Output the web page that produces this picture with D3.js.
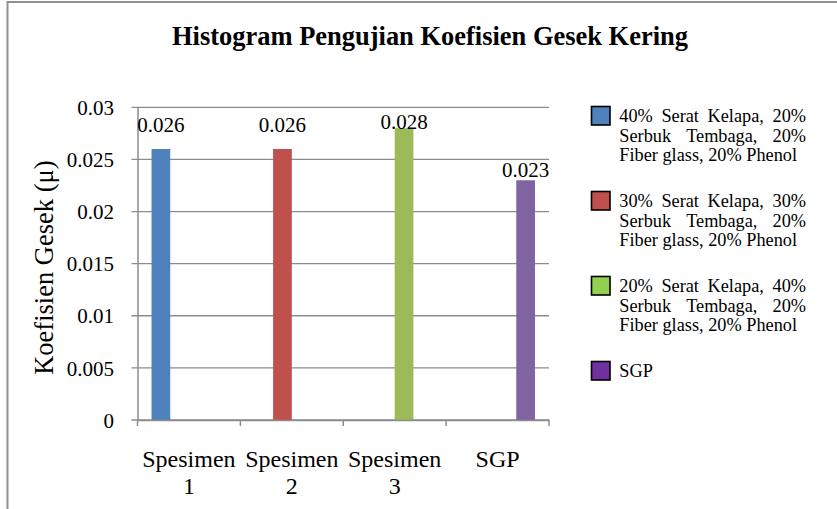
<!DOCTYPE html>
<html>
<head>
<meta charset="utf-8">
<script src="https://cdn.jsdelivr.net/npm/d3@7"></script>
<style>
  html, body { margin: 0; padding: 0; background: #fff; }
  svg { display: block; }
  text { font-family: "Liberation Serif", "Times New Roman", serif; fill: #000; }
</style>
</head>
<body>
<svg id="chart" width="837" height="509"></svg>
<script>
// ---------- data ----------
const title = "Histogram Pengujian Koefisien Gesek Kering";
const yAxisTitle = "Koefisien Gesek (\u03bc)";
const categories = ["Spesimen 1", "Spesimen 2", "Spesimen 3", "SGP"];
const seriesNames = ["Spesimen 1", "Spesimen 2", "Spesimen 3", "SGP"];
const series1 = [0.026, null, null, null];
const series2 = [null, 0.026, null, null];
const series3 = [null, null, 0.028, null];
const series4 = [null, null, null, 0.023];
const yTicks = [0, 0.005, 0.01, 0.015, 0.02, 0.025, 0.03];
const yTickLabels = ["0", "0.005", "0.01", "0.015", "0.02", "0.025", "0.03"];
const legendLines = [
  ["40% Serat Kelapa, 20%", "Serbuk Tembaga, 20%", "Fiber glass, 20% Phenol"],
  ["30% Serat Kelapa, 30%", "Serbuk Tembaga, 20%", "Fiber glass, 20% Phenol"],
  ["20% Serat Kelapa, 40%", "Serbuk Tembaga, 20%", "Fiber glass, 20% Phenol"],
  ["SGP"]
];
const barColors = ["#4F81BD", "#C0504D", "#9BBB59", "#8064A2"];
const legendColors = ["#4F81BD", "#C0504D", "#92D050", "#7030A0"];

// ---------- layout ----------
const allSeries = [series1, series2, series3, series4];
const svg = d3.select("#chart");
const plot = { left: 137.5, right: 549, top: 107.3, bottom: 420 };
const gridColor = "#8c8c8c";
const serif = "Liberation Serif, Times New Roman, serif";

// outer chart border (only left & top visible)
svg.append("rect")
  .attr("x", 7.5).attr("y", 2)
  .attr("width", 900).attr("height", 600)
  .attr("fill", "none").attr("stroke", "#8f8f8f").attr("stroke-width", 2);

// title
svg.append("text")
  .attr("x", 430).attr("y", 44.5)
  .attr("text-anchor", "middle")
  .attr("font-size", 26.5).attr("font-weight", "bold")
  .attr("textLength", 516).attr("lengthAdjust", "spacingAndGlyphs")
  .text(title);

const x = d3.scaleBand().domain(categories).range([plot.left, plot.right]).paddingInner(0).paddingOuter(0);
const xs = d3.scaleBand().domain(seriesNames).range([0, x.bandwidth()]).paddingInner(0).paddingOuter(0.75);
const y = d3.scaleLinear().domain([0, 0.03]).range([plot.bottom, plot.top]);

// gridlines
svg.append("g").selectAll("line").data(yTicks).join("line")
  .attr("x1", plot.left - 6).attr("x2", plot.right)
  .attr("y1", d => y(d)).attr("y2", d => y(d))
  .attr("stroke", gridColor).attr("stroke-width", 1.3);

// y axis
const yAxis = d3.axisLeft(y).tickValues(yTicks).tickSize(0).tickPadding(23.5)
  .tickFormat((d, i) => yTickLabels[i]);
const gy = svg.append("g").attr("transform", `translate(${plot.left},0)`).call(yAxis);
gy.select(".domain").attr("stroke", gridColor).attr("stroke-width", 1.5);
gy.selectAll("text").attr("font-size", 21).attr("font-family", serif).attr("fill", "#000").attr("dy", "0.34em");

// bars
allSeries.forEach((vals, si) => {
  svg.append("g").selectAll("rect")
    .data(vals.map((v, ci) => ({ v, c: categories[ci] })).filter(d => d.v != null))
    .join("rect")
    .attr("x", d => x(d.c) + xs(seriesNames[si]))
    .attr("width", xs.bandwidth())
    .attr("y", d => y(d.v))
    .attr("height", d => y(0) - y(d.v))
    .attr("fill", barColors[si]);
});

// x axis
const xAxis = d3.axisBottom(x).tickSize(0).tickFormat("");
const gx = svg.append("g").attr("transform", `translate(0,${plot.bottom})`).call(xAxis);
gx.select(".domain").attr("stroke", gridColor).attr("stroke-width", 1.5);
const boundaries = categories.map(c => x(c)).concat([x.range()[1]]);
gx.selectAll(".bnd").data(boundaries).join("line").attr("class", "bnd")
  .attr("x1", d => d).attr("x2", d => d).attr("y1", 0).attr("y2", 6)
  .attr("stroke", gridColor).attr("stroke-width", 1.5);
// category labels (wrapped)
categories.forEach(c => {
  const words = c.split(" ");
  const lines = words.length > 1 ? [words.slice(0, -1).join(" "), words[words.length - 1]] : [c];
  const t = svg.append("text").attr("text-anchor", "middle").attr("font-size", 24);
  lines.forEach((ln, i) => {
    t.append("tspan").attr("x", x(c) + x.bandwidth() / 2)
      .attr("y", 466.7 + i * 27.6)
      .text(ln);
  });
});

// data labels
const labelDy = [-17.3, -17.3, 0.5, -3.2];
allSeries.forEach((vals, si) => {
  vals.forEach((v, ci) => {
    if (v == null) return;
    svg.append("text")
      .attr("x", x(categories[ci]) + xs(seriesNames[si]) + xs.bandwidth() / 2)
      .attr("y", y(v) + labelDy[si])
      .attr("text-anchor", "middle").attr("font-size", 21)
      .text(d3.format(".3f")(v));
  });
});

// y axis title
svg.append("text")
  .attr("transform", `translate(53,${(plot.top + plot.bottom) / 2 + 4}) rotate(-90)`)
  .attr("text-anchor", "middle").attr("font-size", 26.5)
  .text(yAxisTitle);

// legend
const leg = { sqX: 591.5, textX: 619.3, textRight: 806, top: 106.5, step: 85, lineH: 19.2, fs: 18.3 };
legendLines.forEach((lines, i) => {
  const top = leg.top + i * leg.step;
  svg.append("rect").attr("x", leg.sqX).attr("y", top).attr("width", 18.5).attr("height", 18.5)
    .attr("fill", legendColors[i]).attr("stroke", "#000").attr("stroke-width", 1.6);
  lines.forEach((ln, li) => {
    const baseY = top + 15.8 + li * leg.lineH;
    const justify = li < lines.length - 1;
    if (!justify) {
      svg.append("text").attr("x", leg.textX).attr("y", baseY).attr("font-size", leg.fs).text(ln);
      return;
    }
    const words = ln.split(" ");
    const widths = words.map(w => {
      const t = svg.append("text").attr("font-size", leg.fs).text(w);
      const wd = t.node().getComputedTextLength();
      t.remove();
      return wd;
    });
    const total = d3.sum(widths);
    const gap = (leg.textRight - leg.textX - total) / (words.length - 1);
    let cx = leg.textX;
    words.forEach((w, wi) => {
      svg.append("text").attr("x", cx).attr("y", baseY).attr("font-size", leg.fs).text(w);
      cx += widths[wi] + gap;
    });
  });
});
</script>
</body>
</html>
